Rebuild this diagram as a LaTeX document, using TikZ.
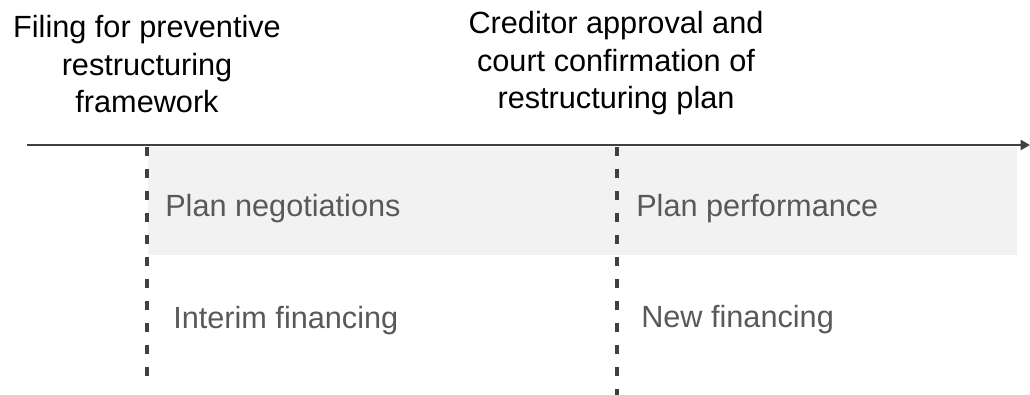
\documentclass[tikz,border=0pt]{standalone}
\usepackage{fontspec}
\setmainfont{Liberation Sans}
\usetikzlibrary{arrows.meta}
\definecolor{axisgray}{HTML}{404040}
\definecolor{bandgray}{HTML}{F2F2F2}
\definecolor{labelgray}{HTML}{595959}
\tikzset{
  milestone/.style={align=center, inner sep=0pt, anchor=north, text=black,
    font=\fontsize{23}{28.3}\selectfont},
  phase/.style={inner sep=0pt, anchor=base west, text=labelgray,
    font=\fontsize{23}{28.3}\selectfont},
  timeline/.style={draw=axisgray, line width=2.2pt, -{Triangle[length=7pt,width=7.5pt]}},
  divider/.style={draw=axisgray, line width=2.4pt, dash pattern=on 6.5pt off 10pt},
  band/.style={fill=bandgray, draw=none}
}
\begin{document}
\begin{tikzpicture}[x=0.75pt,y=-0.75pt]
  \useasboundingbox (0,0) rectangle (1030,395);
  % shaded row for the plan phases
  \fill[band] (148,147) rectangle (1017,255);
  % timeline
  \coordinate (tstart) at (27,145);
  \coordinate (tend) at (1030,145);
  \draw[timeline] (tstart) -- (tend);
  % milestone dividers
  \coordinate (d1top) at (147,147);
  \coordinate (d1bot) at (147,385);
  \coordinate (d2top) at (617,147);
  \coordinate (d2bot) at (617,395);
  \draw[divider] (d1top) -- (d1bot);
  \draw[divider] (d2top) -- (d2bot);
  % milestone labels
  \node[milestone] (filing) at (147,15) {Filing for preventive\\restructuring\\framework};
  \node[milestone] (approval) at (616,11) {Creditor approval and\\court confirmation of\\restructuring plan};
  % phase labels
  \node[phase] (negot) at (165,216) {Plan negotiations};
  \node[phase] (perf) at (636,216) {Plan performance};
  \node[phase] (interim) at (173,328) {Interim financing};
  \node[phase] (newfin) at (641,327) {New financing};
\end{tikzpicture}
\end{document}
